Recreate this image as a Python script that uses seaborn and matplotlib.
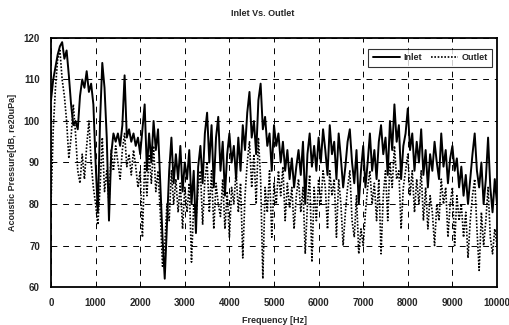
import numpy as np
import pandas as pd
import matplotlib
matplotlib.use("Agg")
import matplotlib.pyplot as plt
import seaborn as sns

# Frequencies (Hz), 50 Hz steps from 0 to 10000
freq = list(range(0, 10001, 50))

inlet = [
    105, 110, 113, 116, 118, 119, 115, 117, 111, 104, 99, 100, 98, 106, 110, 108, 112, 107, 109, 104,
    90, 78, 100, 114, 108, 96, 76, 92, 97, 95, 97, 94, 99, 111, 96, 98, 95, 97, 94, 96,
    92, 98, 104, 88, 97, 90, 100, 93, 98, 85, 72, 62, 75, 88, 96, 85, 92, 86, 94, 83,
    90, 86, 93, 80, 88, 73, 89, 94, 85, 97, 102, 90, 99, 84, 96, 101, 88, 95, 82, 92,
    97, 90, 94, 86, 96, 88, 99, 93, 102, 107, 96, 100, 92, 105, 109, 98, 101, 94, 97, 88,
    99, 94, 97, 90, 95, 88, 93, 86, 91, 84, 89, 93, 87, 95, 80, 92, 97, 89, 94, 88,
    96, 90, 98, 93, 87, 99, 92, 95, 86, 97, 91, 84, 89, 95, 98, 90, 85, 93, 80, 88,
    94, 84, 90, 97, 88, 93, 86, 95, 99, 92, 96, 87, 100, 93, 104, 95, 99, 86, 94, 97,
    103, 93, 97, 88, 95, 90, 98, 87, 93, 84, 92, 88, 95, 90, 86, 97, 89, 93, 85, 91,
    94, 88, 91, 84, 89, 82, 87, 80, 86, 92, 97, 88, 84, 90, 80, 86, 96, 84, 78, 86,
    80,
]

outlet = [
    80, 98, 108, 115, 117, 110, 106, 100, 91, 96, 104, 97, 88, 85, 92, 86, 94, 100, 90, 84,
    80, 75, 84, 96, 83, 88, 80, 93, 88, 94, 90, 86, 93, 97, 89, 92, 87, 93, 89, 84,
    88, 72, 90, 82, 92, 85, 94, 83, 88, 78, 65, 70, 80, 76, 88, 80, 86, 78, 85, 74,
    84, 78, 85, 66, 80, 76, 84, 88, 75, 86, 90, 78, 88, 74, 85, 80, 77, 86, 74, 83,
    72, 84, 80, 88, 78, 85, 67, 82, 90, 95, 84, 92, 80, 96, 86, 62, 84, 78, 88, 72,
    85, 80, 88, 82, 89, 76, 85, 79, 84, 74, 82, 86, 78, 84, 68, 80, 87, 66, 84, 76,
    86, 80, 88, 84, 74, 88, 82, 86, 72, 86, 80, 70, 78, 84, 88, 76, 72, 82, 68, 74,
    70, 78, 84, 88, 80, 85, 76, 86, 68, 82, 88, 76, 90, 84, 94, 86, 88, 74, 84, 88,
    92, 82, 88, 78, 86, 80, 88, 76, 84, 74, 82, 78, 70, 80, 76, 86, 80, 84, 72, 80,
    84, 70, 82, 76, 80, 72, 78, 67, 76, 82, 86, 74, 64, 78, 70, 76, 84, 72, 68, 74,
    70,
]

x_ticks = [0, 1000, 2000, 3000, 4000, 5000, 6000, 7000, 8000, 9000, 10000]
y_ticks = [60, 70, 80, 90, 100, 110, 120]

sns.set_theme(style="white")
plt.rcParams["font.family"] = ["Liberation Sans", "DejaVu Sans"]

fig = plt.figure(figsize=(5.10, 3.25), dpi=100)
ax = fig.add_axes([51 / 510, 1 - 287 / 325, 446 / 510, 249 / 325])

sns.lineplot(x=freq, y=inlet, ax=ax, color="black", lw=1.4, label="Inlet")
sns.lineplot(x=freq, y=outlet, ax=ax, color="black", lw=1.2, linestyle=(0, (1, 1)), label="Outlet")

ax.set_xlim(0, 10000)
ax.set_ylim(60, 120)
ax.set_xticks(x_ticks)
ax.set_yticks(y_ticks)
ax.set_xticklabels([str(v) for v in x_ticks], fontsize=7, fontweight="bold")
ax.set_yticklabels([str(v) for v in y_ticks], fontsize=7, fontweight="bold")
ax.tick_params(length=0, pad=8)

ax.grid(True, color="black", linestyle=(0, (6, 6)), linewidth=0.7)
for s in ax.spines.values():
    s.set_color("black")
    s.set_linewidth(1.3)

ax.set_xlabel("Frequency [Hz]", fontsize=6.5, fontweight="bold", labelpad=6)
ax.set_ylabel("Acoustic Pressure[dB, re20uPa]", fontsize=6.5, fontweight="bold", labelpad=5)
fig.text(0.515, 0.957, "Inlet Vs. Outlet", ha="center", va="center", fontsize=6.5, fontweight="bold")

leg = ax.legend(loc="upper right", ncol=2, fontsize=6.5, frameon=True, fancybox=False,
                handlelength=3.0, handletextpad=0.4, columnspacing=1.0,
                borderpad=0.5, bbox_to_anchor=(1.0, 0.975))
leg.get_frame().set_edgecolor("black")
leg.get_frame().set_linewidth(0.8)
for t in leg.get_texts():
    t.set_fontweight("bold")

fig.savefig("out.png", dpi=100, facecolor="white")
